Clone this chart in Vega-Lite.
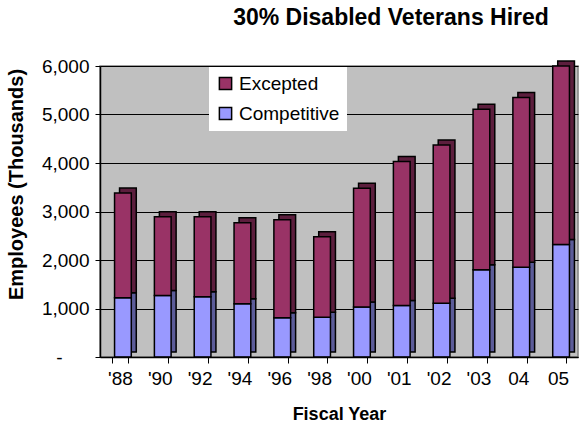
{
  "$schema": "https://vega.github.io/schema/vega-lite/v6.json",
  "autosize": "none",
  "width": 478,
  "height": 291,
  "padding": {"left": 100, "top": 66, "right": 5, "bottom": 76},
  "background": "white",
  "config": {
    "font": "Liberation Sans",
    "view": {"fill": "#C0C0C0", "stroke": "#808080", "strokeWidth": 1.5}
  },
  "title": {
    "text": "30% Disabled Veterans Hired",
    "fontSize": 23,
    "fontWeight": "bold",
    "color": "black",
    "anchor": "middle",
    "dx": 52,
    "offset": 27
  },
  "data": {
    "values": [
      {"year": "'88", "series": "Competitive", "value": 1220},
      {"year": "'88", "series": "Excepted", "value": 2160},
      {"year": "'90", "series": "Competitive", "value": 1270},
      {"year": "'90", "series": "Excepted", "value": 1620},
      {"year": "'92", "series": "Competitive", "value": 1240},
      {"year": "'92", "series": "Excepted", "value": 1650},
      {"year": "'94", "series": "Competitive", "value": 1100},
      {"year": "'94", "series": "Excepted", "value": 1670},
      {"year": "'96", "series": "Competitive", "value": 810},
      {"year": "'96", "series": "Excepted", "value": 2020},
      {"year": "'98", "series": "Competitive", "value": 820},
      {"year": "'98", "series": "Excepted", "value": 1660},
      {"year": "'00", "series": "Competitive", "value": 1030},
      {"year": "'00", "series": "Excepted", "value": 2450},
      {"year": "'01", "series": "Competitive", "value": 1060},
      {"year": "'01", "series": "Excepted", "value": 2970},
      {"year": "'02", "series": "Competitive", "value": 1110},
      {"year": "'02", "series": "Excepted", "value": 3260},
      {"year": "'03", "series": "Competitive", "value": 1800},
      {"year": "'03", "series": "Excepted", "value": 3310},
      {"year": "04", "series": "Competitive", "value": 1850},
      {"year": "04", "series": "Excepted", "value": 3500},
      {"year": "05", "series": "Competitive", "value": 2320},
      {"year": "05", "series": "Excepted", "value": 3680}
    ]
  },
  "encoding": {
    "x": {
      "field": "year",
      "type": "nominal",
      "sort": null,
      "scale": {"paddingInner": 0.58, "paddingOuter": 0.29},
      "axis": {
        "title": "Fiscal Year",
        "titleFontSize": 18,
        "titleFontWeight": "bold",
        "titleColor": "black",
        "titlePadding": 17,
        "labelFontSize": 19,
        "labelColor": "black",
        "labelAngle": 0,
        "labelPadding": 6,
        "tickBand": "extent",
        "tickSize": 6,
        "tickColor": "black",
        "domain": true,
        "domainColor": "black",
        "domainWidth": 1.5,
        "grid": false,
        "zindex": 1
      }
    },
    "y": {
      "field": "value",
      "type": "quantitative",
      "stack": "zero",
      "scale": {"domain": [0, 6000], "nice": false},
      "axis": {
        "title": "Employees (Thousands)",
        "titleFontSize": 20,
        "titleFontWeight": "bold",
        "titleColor": "black",
        "titleX": -74,
        "titleY": 118,
        "titleAnchor": "middle",
        "values": [0, 1000, 2000, 3000, 4000, 5000, 6000],
        "labelExpr": "datum.value == 0 ? '-' : datum.label",
        "labelFontSize": 19,
        "labelColor": "black",
        "labelPadding": {"condition": {"test": "datum.value == 0", "value": 33}, "value": 6},
        "tickSize": 5,
        "tickColor": "black",
        "domain": true,
        "domainColor": "black",
        "domainWidth": 1.5,
        "grid": true,
        "gridColor": "black",
        "gridWidth": 1,
        "zindex": 0
      }
    },
    "order": {"field": "series", "sort": "ascending"},
    "color": {
      "field": "series",
      "type": "nominal",
      "scale": {"domain": ["Excepted", "Competitive"], "range": ["#993366", "#9999FF"]},
      "legend": {
        "title": null,
        "orient": "none",
        "legendX": 109,
        "legendY": 1,
        "fillColor": "white",
        "padding": 7,
        "labelFontSize": 19,
        "labelColor": "black",
        "labelOffset": 4,
        "rowPadding": 10,
        "symbolType": "square",
        "symbolSize": 150,
        "symbolStrokeColor": "black",
        "symbolStrokeWidth": 1.5,
        "symbolOpacity": 1
      }
    }
  },
  "layer": [
    {
      "mark": {"type": "bar", "xOffset": 8, "yOffset": -5, "stroke": "black", "strokeWidth": 1.5, "opacity": 1}
    },
    {
      "mark": {"type": "bar", "xOffset": 8, "yOffset": -5, "fill": "black", "fillOpacity": 0.4, "strokeWidth": 0},
      "encoding": {"color": {"value": "black"}}
    },
    {
      "mark": {"type": "bar", "xOffset": 3, "stroke": "black", "strokeWidth": 1.5, "opacity": 1}
    }
  ]
}
